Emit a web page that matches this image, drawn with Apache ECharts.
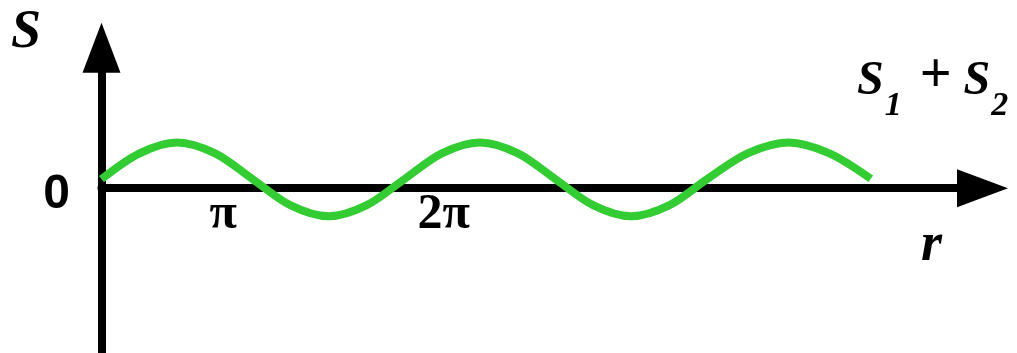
<!DOCTYPE html>
<html>
<head>
<meta charset="utf-8">
<script src="https://cdn.jsdelivr.net/npm/echarts@6/dist/echarts.min.js"></script>
<style>
  html, body { margin: 0; padding: 0; background: #fff; }
  #chart { width: 1017px; height: 353px; }
</style>
</head>
<body>
<div id="chart"></div>
<script>
// Superposed wave S1 + S2 sampled along r (r in radians of the wave, S in amplitude units)
const rValues = [0, 0.79, 1.57, 2.36, 3.14, 3.93, 4.72, 5.50, 6.29, 7.07, 7.86, 8.65, 9.43, 10.22, 11.00, 11.79, 12.58, 13.42, 14.27, 15.12, 15.98];
const sValues = [0.24, 0.93, 1.22, 0.93, 0.24, -0.46, -0.75, -0.46, 0.24, 0.93, 1.22, 0.93, 0.24, -0.46, -0.75, -0.46, 0.24, 0.93, 1.22, 0.93, 0.25];

// Tick labels along r (below the axis) and along S (left of the axis)
const rTickValues = [2.53, 7.11];
const rTickLabels = ['π', '2π'];
const sTickValues = [0];
const sTickLabels = ['0'];

// Axis extents
const rRange = [0, 18.3];
const sRange = [-4.4, 3.75];

const serif = 'Liberation Serif';
const sans = 'Liberation Sans';
const ink = '#000';

const italicBold = { fontFamily: serif, fontStyle: 'italic', fontWeight: 'bold', color: ink };

const chart = echarts.init(document.getElementById('chart'), null, { renderer: 'canvas' });

// Invisible anchor points that carry the tick labels at their axis positions
function tickSeries(points, labels, labelOpts) {
  return {
    type: 'scatter',
    silent: true,
    symbolSize: 1,
    itemStyle: { color: 'rgba(0,0,0,0)', opacity: 1 },
    data: points,
    z: 5,
    label: Object.assign({
      show: true,
      color: ink,
      opacity: 1,
      formatter: function (p) { return labels[p.dataIndex]; }
    }, labelOpts)
  };
}

const option = {
  animation: false,
  backgroundColor: '#fff',
  grid: { left: 101.5, right: 34.5, top: 47.7, bottom: 0, containLabel: false, outerBoundsMode: 'none' },
  title: [
    {
      text: 'S', left: 11, top: 6, padding: 0,
      textStyle: Object.assign({}, italicBold, { fontSize: 54, lineHeight: 54 })
    },
    {
      text: 'r', left: 921, top: 219, padding: 0,
      textStyle: Object.assign({}, italicBold, { fontSize: 54, lineHeight: 54 })
    },
    {
      text: '{s|S}{sub|1}{op|+}{s|S}{sub|2}', left: 857, top: 54, padding: 0,
      textStyle: {
        rich: {
          s: Object.assign({}, italicBold, { fontSize: 48, lineHeight: 48, verticalAlign: 'middle' }),
          sub: Object.assign({}, italicBold, { fontSize: 34, lineHeight: 34, padding: [49, 0, 0, 1], verticalAlign: 'middle' }),
          op: { fontFamily: serif, fontWeight: 'bold', color: ink, fontSize: 56, lineHeight: 56, padding: [0, 12, 9, 18], verticalAlign: 'middle' }
        }
      }
    }
  ],
  xAxis: {
    type: 'value',
    min: rRange[0],
    max: rRange[1],
    axisLine: {
      onZero: true,
      symbol: ['none', 'triangle'],
      symbolSize: [38, 51],
      lineStyle: { color: ink, width: 8 }
    },
    axisTick: { show: false },
    splitLine: { show: false },
    axisLabel: { show: false }
  },
  yAxis: {
    type: 'value',
    min: sRange[0],
    max: sRange[1],
    axisLine: {
      onZero: true,
      symbol: ['none', 'triangle'],
      symbolSize: [38, 50],
      lineStyle: { color: ink, width: 8 }
    },
    axisTick: { show: false },
    splitLine: { show: false },
    axisLabel: { show: false }
  },
  series: [
    {
      name: 'S1 + S2',
      type: 'line',
      data: rValues.map(function (r, i) { return [r, sValues[i]]; }),
      smooth: 0.33,
      symbol: 'none',
      z: 3,
      lineStyle: { color: '#33cc33', width: 8 }
    },
    tickSeries(rTickValues.map(function (r) { return [r, 0]; }), rTickLabels, {
      position: 'bottom',
      distance: 1,
      fontFamily: serif,
      fontWeight: 'bold',
      fontSize: 50,
      lineHeight: 50
    }),
    tickSeries(sTickValues.map(function (s) { return [0, s]; }), sTickLabels, {
      position: 'left',
      distance: 31,
      offset: [0, 6.5],
      fontFamily: sans,
      fontWeight: 'bold',
      fontSize: 48,
      lineHeight: 48
    })
  ]
};

chart.setOption(option);
</script>
</body>
</html>
